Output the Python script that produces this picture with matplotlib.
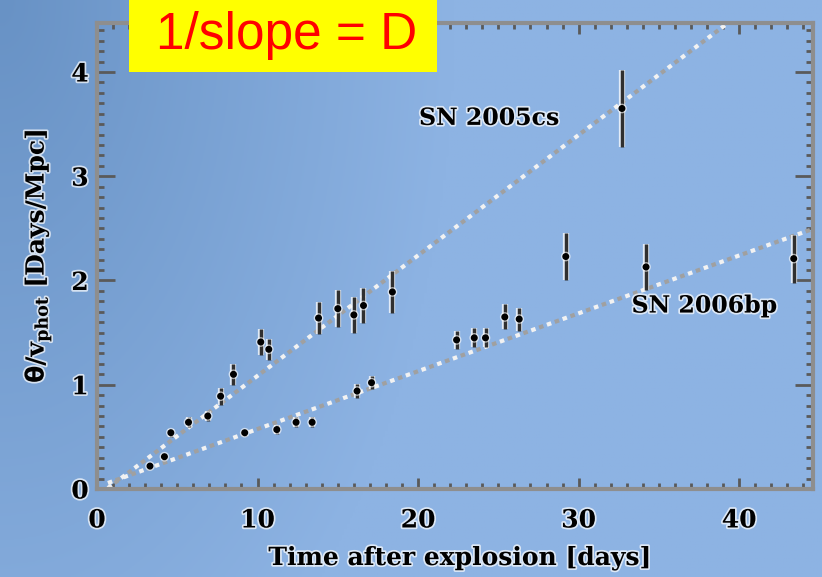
import numpy as np
import matplotlib
matplotlib.use("Agg")
import matplotlib.pyplot as plt
import matplotlib.patheffects as pe
from matplotlib.patches import Rectangle
from matplotlib.ticker import MultipleLocator

# SN 2005cs: days after explosion, theta/v_phot, error
cs_days = [4.6, 5.7, 6.9, 7.7, 8.5, 10.2, 10.7, 13.8, 15.0, 16.0, 16.6, 18.4, 32.7]
cs_ratio = [0.54, 0.64, 0.70, 0.89, 1.10, 1.41, 1.34, 1.64, 1.73, 1.67, 1.76, 1.89, 3.65]
cs_err = [0.04, 0.05, 0.05, 0.08, 0.10, 0.12, 0.10, 0.15, 0.18, 0.17, 0.17, 0.20, 0.37]

# SN 2006bp
bp_days = [3.3, 4.2, 9.2, 11.2, 12.4, 13.4, 16.2, 17.1, 22.4, 23.5, 24.2, 25.4, 26.3, 29.2, 34.2, 43.4]
bp_ratio = [0.22, 0.31, 0.54, 0.57, 0.64, 0.64, 0.94, 1.02, 1.43, 1.45, 1.45, 1.65, 1.63, 2.23, 2.13, 2.21]
bp_err = [0.03, 0.03, 0.03, 0.04, 0.05, 0.05, 0.07, 0.06, 0.09, 0.09, 0.09, 0.12, 0.11, 0.23, 0.22, 0.23]

# linear fits (slope, zero crossing in days)
cs_fit = (0.1155, 0.6)
bp_fit = (0.0555, -0.36)

x_ticks = [0, 10, 20, 30, 40]
y_ticks = [0, 1, 2, 3, 4]

fig = plt.figure(figsize=(8.22, 5.77), dpi=100)

# blue gradient backdrop
bg = fig.add_axes([0, 0, 1, 1], zorder=-1)
H, W = 200, 300
yy, xx = np.mgrid[0:H, 0:W]
f = np.clip(np.sqrt((xx / (0.55 * W)) ** 2 + (yy / (1.4 * H)) ** 2), 0, 1)
dark = np.array([104, 146, 197]) / 255
light = np.array([141, 179, 227]) / 255
img = dark[None, None, :] * (1 - f[..., None]) + light[None, None, :] * f[..., None]
bg.imshow(img, aspect="auto", extent=[0, 1, 0, 1])
bg.axis("off")

ax = fig.add_axes([97 / 822, 1 - 489 / 577, 716 / 822, 466 / 577])
ax.set_facecolor("none")

halo = [pe.withStroke(linewidth=2.5, foreground="white", alpha=0.7)]
serif = dict(family="DejaVu Serif", weight="bold", color="black")

# fit lines, drawn as alternating white/gray dashes
t = np.linspace(0, 45, 200)
for (slope, t0), start in [(cs_fit, 0.6), (bp_fit, 0.5)]:
    tt = t[t >= start]
    yv = slope * (tt - t0)
    ax.plot(tt, yv, color="#f2f2f2", lw=3, linestyle=(0, (1.1, 2.9)),
            dash_capstyle="butt", zorder=2)
    ax.plot(tt, yv, color="#a0a0a0", lw=3, linestyle=(2.0, (1.1, 2.9)),
            dash_capstyle="butt", zorder=2)

for d, r, e in [(cs_days, cs_ratio, cs_err), (bp_days, bp_ratio, bp_err)]:
    cont = ax.errorbar(d, r, yerr=e, fmt="o", ms=4, mfc="black", mec="black",
                       ecolor="#303030", elinewidth=2.5, capsize=0, zorder=3)
    cont[0].set_path_effects([pe.withStroke(linewidth=3, foreground="white", alpha=0.6)])
    cont[2][0].set_path_effects([pe.withStroke(linewidth=4.5, foreground="white", alpha=0.75)])

ax.text(20.06, 3.56, "SN 2005cs", fontsize=17, ha="left", va="center",
        path_effects=halo, **serif)
ax.text(33.3, 1.76, "SN 2006bp", fontsize=17, ha="left", va="center",
        path_effects=halo, **serif)

ax.set_xlim(0, 44.6)
ax.set_ylim(0, 4.47)
ax.set_xticks(x_ticks)
ax.set_yticks(y_ticks)
ax.xaxis.set_minor_locator(MultipleLocator(1))
ax.yaxis.set_minor_locator(MultipleLocator(0.1))

for s in ax.spines.values():
    s.set_color("#8e8e8e")
    s.set_linewidth(3)

ax.tick_params(axis="both", which="both", direction="in", top=True, right=True,
               color="#5a5a5a", width=2)
ax.tick_params(axis="x", which="major", length=8, pad=14)
ax.tick_params(axis="x", which="minor", length=4)
ax.tick_params(axis="y", which="major", length=13, pad=6)
ax.tick_params(axis="y", which="minor", length=5)

for lab in ax.get_xticklabels() + ax.get_yticklabels():
    lab.set_fontfamily("DejaVu Serif")
    lab.set_fontweight("bold")
    lab.set_fontsize(18)
    lab.set_path_effects(halo)

fig.text(460 / 822, 1 - 558 / 577, "Time after explosion [days]", fontsize=18,
         ha="center", va="center", path_effects=halo, **serif)
fig.text(38 / 822, 1 - 256 / 577, r"$\mathbf{\theta}$/v$_{\mathregular{phot}}$ [Days/Mpc]",
         fontsize=18, rotation=90, ha="center", va="center", path_effects=halo, **serif)

# highlight box with the distance relation
fig.add_artist(Rectangle((129 / 822, 1 - 72 / 577), 308 / 822, 72 / 577,
                         transform=fig.transFigure, facecolor="#ffff00",
                         edgecolor="none", zorder=10))
fig.text(287 / 822, 1 - 49 / 577, "1/slope = D", fontsize=37, family="Liberation Sans",
         color="#ff0000", ha="center", va="baseline", zorder=11)

fig.savefig("out.png", dpi=100)
